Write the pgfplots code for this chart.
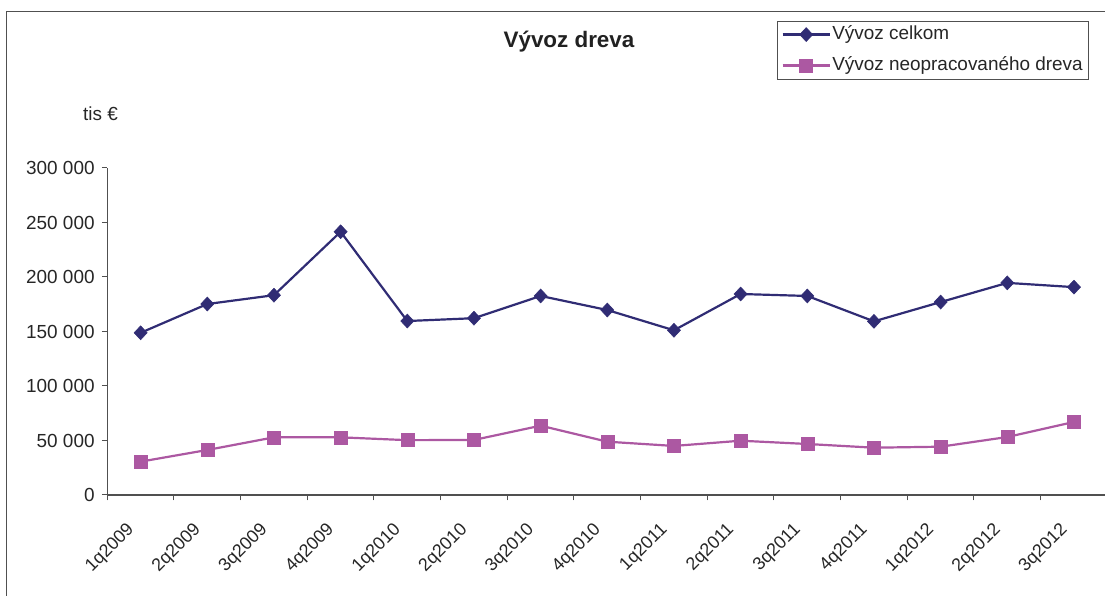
\documentclass[border=0pt]{standalone}
\usepackage{pgfplots}
\pgfplotsset{compat=1.18}
\usepackage{fontspec}
\setmainfont{Liberation Sans}
\definecolor{navyc}{RGB}{48,44,116}
\definecolor{magc}{RGB}{172,88,162}
\definecolor{axc}{RGB}{80,80,80}
\begin{document}
\begin{tikzpicture}[x=1bp,y=1bp]
\begin{axis}[
  at={(0,0)}, anchor=south west,
  scale only axis, width=1000bp, height=327bp,
  xmin=0, xmax=15, ymin=0, ymax=300000,
  axis lines*=left,
  axis line style={axc, line width=1.1bp},
  tick style={axc, line width=1bp},
  tick align=outside,
  major tick length=5.5bp,
  /pgf/number format/assume math mode=true,
  tick label style={font=\fontsize{19}{22}\selectfont, text=black!85},
  xtick={0,1,...,15},
  xticklabels={,,,,,,,,,,,,,,,},
  extra x ticks={0.5,1.5,2.5,3.5,4.5,5.5,6.5,7.5,8.5,9.5,10.5,11.5,12.5,13.5,14.5},
  extra x tick labels={1q2009,2q2009,3q2009,4q2009,1q2010,2q2010,3q2010,4q2010,1q2011,2q2011,3q2011,4q2011,1q2012,2q2012,3q2012},
  extra x tick style={major tick length=0pt,
    tick label style={font=\fontsize{18}{21}\selectfont, xshift=-15bp, yshift=-26bp, rotate=45, anchor=north east, inner sep=0pt}},
  ytick={0,50000,100000,150000,200000,250000,300000},
  yticklabels={0,50 000,100 000,150 000,200 000,250 000,300 000},
  yticklabel style={inner sep=0pt, xshift=-7bp},
  scaled y ticks=false,
  clip=false,
  legend style={at={(0.6694,1.4505)}, anchor=north west, draw=axc, line width=0.8bp,
    font=\fontsize{19}{22}\selectfont, text=black!85,
    inner xsep=4.5bp, inner ysep=3bp, row sep=10bp,
    nodes={inner xsep=1.5bp, inner ysep=1.5bp, text height=14bp, text depth=4bp}},
  legend cell align=left,
  legend image code/.code={\draw[mark repeat=2,mark phase=2,#1] plot coordinates {(0bp,0bp) (23.5bp,0bp) (47bp,0bp)};},
]
\addplot[navyc, line width=2.2bp, mark=diamond*, mark size=7bp, mark options={xscale=1.25, solid, fill=navyc, line width=0.5bp}]
coordinates {
(0.5,148800) (1.5,175200) (2.5,183300) (3.5,241500) (4.5,159600) (5.5,162200) (6.5,182600) (7.5,169700)
(8.5,151100) (9.5,184400) (10.5,182600) (11.5,159300) (12.5,177000) (13.5,194600) (14.5,190700)
};
\addlegendentry{Vývoz celkom}
\addplot[magc, line width=2.2bp, mark=square*, mark size=6.5bp, mark options={solid, fill=magc, line width=0.5bp}]
coordinates {
(0.5,30600) (1.5,41300) (2.5,52900) (3.5,52900) (4.5,50300) (5.5,50500) (6.5,63600) (7.5,48900)
(8.5,45000) (9.5,49800) (10.5,46800) (11.5,43400) (12.5,44300) (13.5,53200) (14.5,67000)
};
\addlegendentry{Vývoz neopracovaného dreva}
\end{axis}
\node[anchor=base, inner sep=0pt, font=\fontsize{22.5}{26}\selectfont\bfseries, text=black!87] at (461.7,447.3) {Vývoz dreva};
\node[anchor=base west, inner sep=0pt, font=\fontsize{19}{22}\selectfont, text=black!85] at (-24.3,374.3) {tis €};
\draw[axc, line width=1.3bp] (-100.6,-120) -- (-100.6,483.3) -- (1020,483.3);
\pgfresetboundingbox
\useasboundingbox (-107.3,-101) rectangle (997.7,495);
\end{tikzpicture}
\end{document}
